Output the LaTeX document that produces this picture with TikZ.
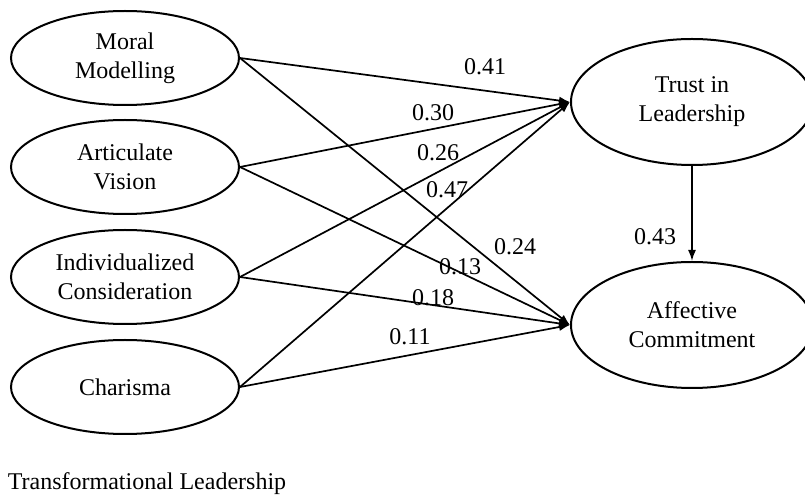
\documentclass[tikz,border=0pt]{standalone}
\usepackage{fontspec}
\setmainfont{Liberation Serif}
\usetikzlibrary{shapes.geometric}
\usetikzlibrary{arrows.meta}

\begin{document}
\begin{tikzpicture}[x=0.5pt, y=-0.5pt]

\tikzstyle{factor}=[ellipse, draw=black, line width=1pt, minimum width=114pt, minimum height=47pt, inner sep=0pt, align=center, font=\fontsize{12}{14.5}\selectfont]
\tikzstyle{outcome}=[factor, minimum width=121pt, minimum height=63pt]
\tikzstyle{coef}=[inner sep=0pt, font=\fontsize{12}{14.5}\selectfont]

\tikzstyle{connect}=[-{Latex[length=5.5pt, width=4pt]}, line width=0.85pt]

\useasboundingbox (0,0) rectangle (805,497);

\node[factor] (mm) at (125,58)  {Moral\\Modelling};
\node[factor] (av) at (125,167) {Articulate\\Vision};
\node[factor] (ic) at (125,277) {Individualized\\Consideration};
\node[factor] (ch) at (125,387) {Charisma};

\node[outcome] (trust) at (692,102) {Trust in\\Leadership};
\node[outcome] (ac) at (692,325)    {Affective\\Commitment};

\node[coef] (title) at (147,484) {Transformational Leadership};

\path (mm.east) [connect] edge (trust.west);
\path (av.east) [connect] edge (trust.west);
\path (ic.east) [connect] edge (trust.west);
\path (ch.east) [connect] edge (trust.west);

\path (mm.east) [connect] edge (ac.west);
\path (av.east) [connect] edge (ac.west);
\path (ic.east) [connect] edge (ac.west);
\path (ch.east) [connect] edge (ac.west);

\path (trust) [connect] edge (ac);

\node[coef] at (485,67)  {0.41};
\node[coef] at (433,113) {0.30};
\node[coef] at (438,153) {0.26};
\node[coef] at (447,190) {0.47};
\node[coef] at (515,247) {0.24};
\node[coef] at (460,267) {0.13};
\node[coef] at (433,298) {0.18};
\node[coef] at (410,337) {0.11};
\node[coef] at (655,237) {0.43};

\end{tikzpicture}
\end{document}
